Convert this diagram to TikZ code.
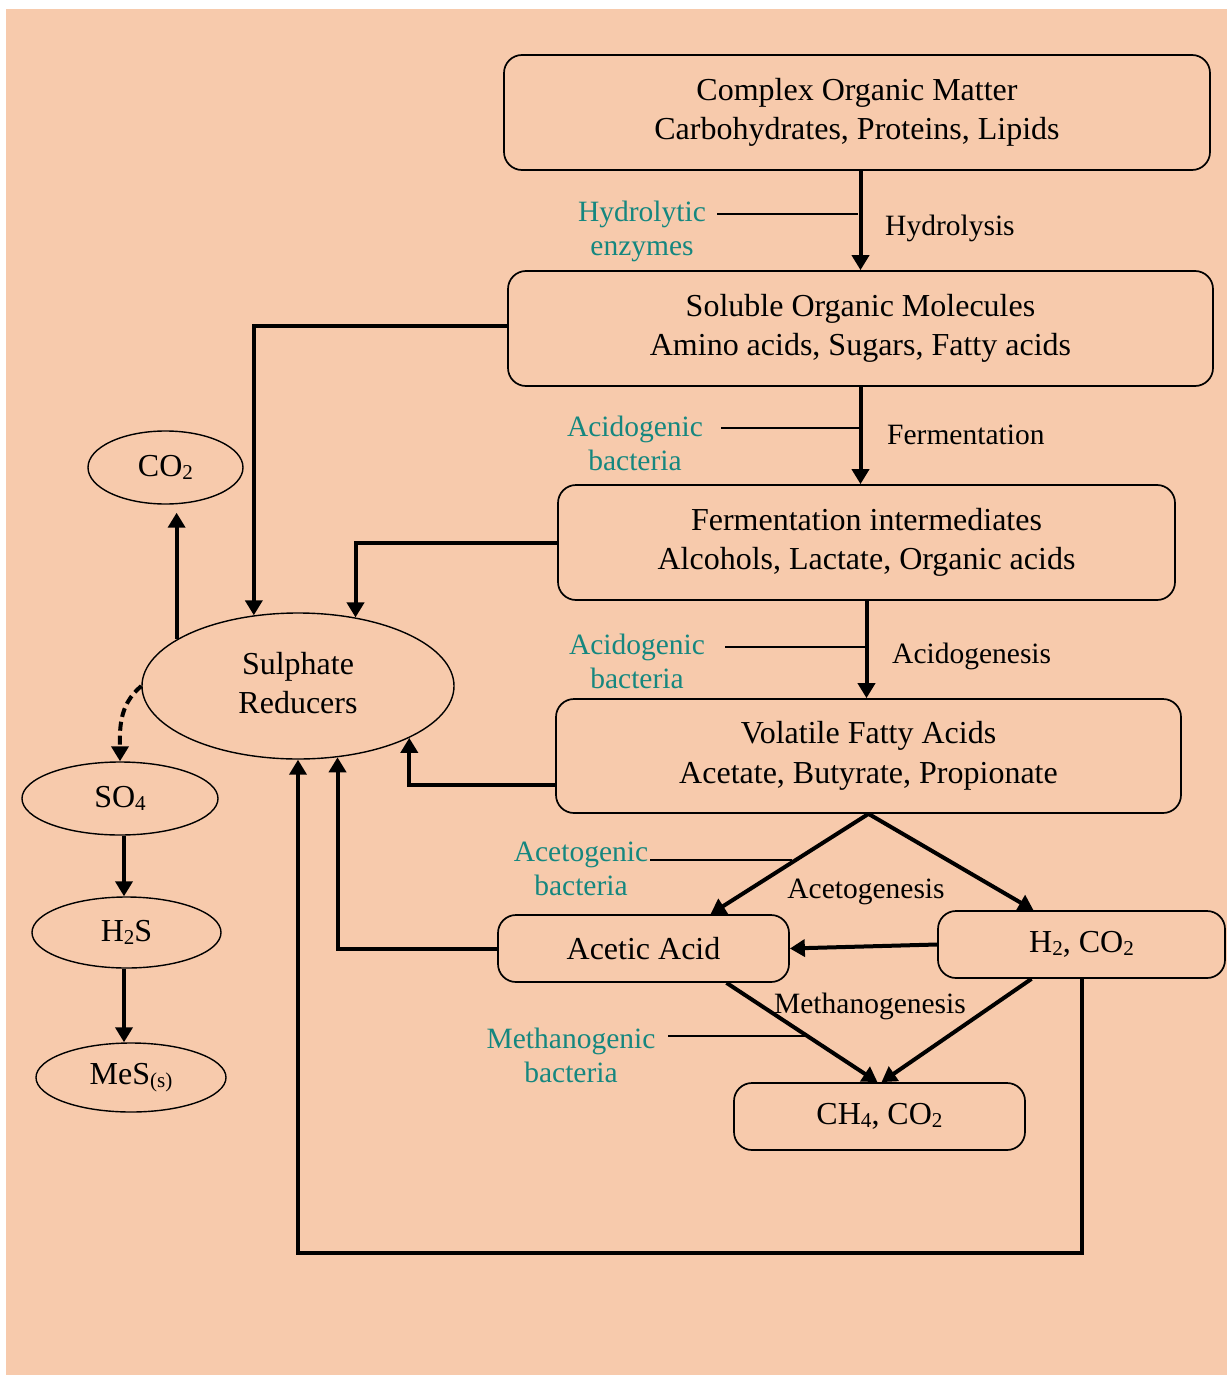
\documentclass[tikz,border=0pt]{standalone}
\usepackage{fontspec}
\setmainfont{Liberation Serif}
\usetikzlibrary{arrows.meta,shapes.geometric,calc}
\definecolor{peach}{HTML}{F7CAAC}
\definecolor{tealtxt}{HTML}{15877F}
\newcommand\mysb[1]{\raisebox{-0.1em}{\scalebox{0.66}{#1}}}
\begin{document}
\begin{tikzpicture}[x=1pt,y=-1pt,
  box/.style={draw,line width=1.7pt,rounded corners=18pt,align=center,font=\fontsize{32}{39.5}\selectfont,inner sep=0pt},
  ell/.style={draw,ellipse,line width=1.4pt,inner sep=0pt,align=center,font=\fontsize{32}{39.5}\selectfont},
  arr/.style={line width=4pt,-{Triangle[length=15pt,width=17pt]}},
  lab/.style={font=\fontsize{29.5}{34}\selectfont,inner sep=0pt},
  tlab/.style={font=\fontsize{29.5}{34}\selectfont,text=tealtxt,align=center,inner sep=0pt},
  tline/.style={line width=1.3pt}]
% background
\fill[white] (0,0) rectangle (1227,1375);
\fill[peach] (6,9) rectangle (1227,1375);
\useasboundingbox (0,0) rectangle (1227,1375);

% main boxes
\node[box,minimum width=706,minimum height=115] (b1) at (857,112.5) {Complex Organic Matter\\Carbohydrates, Proteins, Lipids};
\node[box,minimum width=705,minimum height=115] (b2) at (860.5,328.5) {Soluble Organic Molecules\\Amino acids, Sugars, Fatty acids};
\node[box,minimum width=617,minimum height=115] (b3) at (866.5,542.5) {Fermentation intermediates\\Alcohols, Lactate, Organic acids};
\node[box,minimum width=625,minimum height=114] (b4) at (868.5,756) {Volatile Fatty Acids\\Acetate, Butyrate, Propionate};
\node[box,minimum width=291,minimum height=67] (ac) at (643.5,948.5) {Acetic Acid};
\node[box,minimum width=287,minimum height=67] (h2) at (1081.5,944.5) {H\mysb{2}, CO\mysb{2}};
\node[box,minimum width=291,minimum height=67] (ch4) at (879.5,1116.5) {CH\mysb{4}, CO\mysb{2}};

% ellipses
\node[ell,minimum width=312,minimum height=146] (sr) at (298,686) {};
\node[font=\fontsize{32}{39.5}\selectfont,align=center,inner sep=0pt] (srt) at (298,683) {Sulphate\\Reducers};
\node[ell,minimum width=155,minimum height=73] (co2) at (165.5,467.5) {CO\mysb{2}};
\node[ell,minimum width=196,minimum height=73] (so4) at (120,798.5) {SO\mysb{4}};
\node[ell,minimum width=189,minimum height=71] (h2s) at (126.5,932.5) {H\mysb{2}S};
\node[ell,minimum width=190,minimum height=69] (mes) at (131,1077.5) {MeS\mysb{(s)}};

% labels
\node[lab,anchor=west] (lhy) at (885,228) {Hydrolysis};
\node[lab,anchor=west] (lfe) at (887,435) {Fermentation};
\node[lab,anchor=west] (lac) at (892,656) {Acidogenesis};
\node[lab] (lag) at (866,892) {Acetogenesis};
\node[lab] (lme) at (870,1006) {Methanogenesis};

\node[tlab] (thy) at (642,231) {Hydrolytic\\enzymes};
\node[tlab] (tac1) at (635,443) {Acidogenic\\bacteria};
\node[tlab] (tac2) at (637,661) {Acidogenic\\bacteria};
\node[tlab] (tag) at (581,869) {Acetogenic\\bacteria};
\node[tlab] (tme) at (571,1055) {Methanogenic\\bacteria};

% leader lines
\draw[tline] (717,214) -- (858,214);
\draw[tline] (721,428) -- (860,428);
\draw[tline] (725,647) -- (865,647);
\draw[tline] (650,860) -- (792,860);
\draw[tline] (668,1036) -- (808,1036);

% main chain
\draw[arr] (b1.south -| b2.north) -- (b2.north);
\draw[arr] (b2.south) -- (b2.south |- b3.north);
\draw[arr] (b3.south) -- (b3.south |- b4.north);
\draw[arr] (b4.south) -- ([xshift=67pt]ac.north);
\draw[arr] (b4.south) -- ([xshift=-48pt]h2.north);
\draw[arr] (h2.west) -- (ac.east);
\draw[arr] ([xshift=83pt]ac.south) -- ([xshift=-2pt]ch4.north);
\draw[arr] ([xshift=-50pt]h2.south) -- ([xshift=2pt]ch4.north);

% feeds to sulphate reducers
\draw[arr] (h2.south) -- ++(0,274) -| (sr.south);
\draw[arr] (ac.west) -| (sr.-61.8);
\draw[arr] ([yshift=-29pt]b4.west) -| (sr.-25.2);
\draw[arr] (b3.west) -| (sr.50);
\draw[arr] ([yshift=2.5pt]b2.west) -| (sr.122.2);

% sulphate side
\draw[arr,shorten >=8pt] (sr.159.5) -- (sr.159.5 |- co2.south);
\draw[arr,dash pattern=on 9pt off 5pt] (sr.west) to[out=-140,in=90] (so4.north);
\draw[arr] ([xshift=4pt]so4.south) -- ([xshift=4pt]so4.south |- h2s.north);
\draw[arr] ([xshift=-2.5pt]h2s.south) -- ([xshift=-2.5pt]h2s.south |- mes.north);
\end{tikzpicture}
\end{document}
